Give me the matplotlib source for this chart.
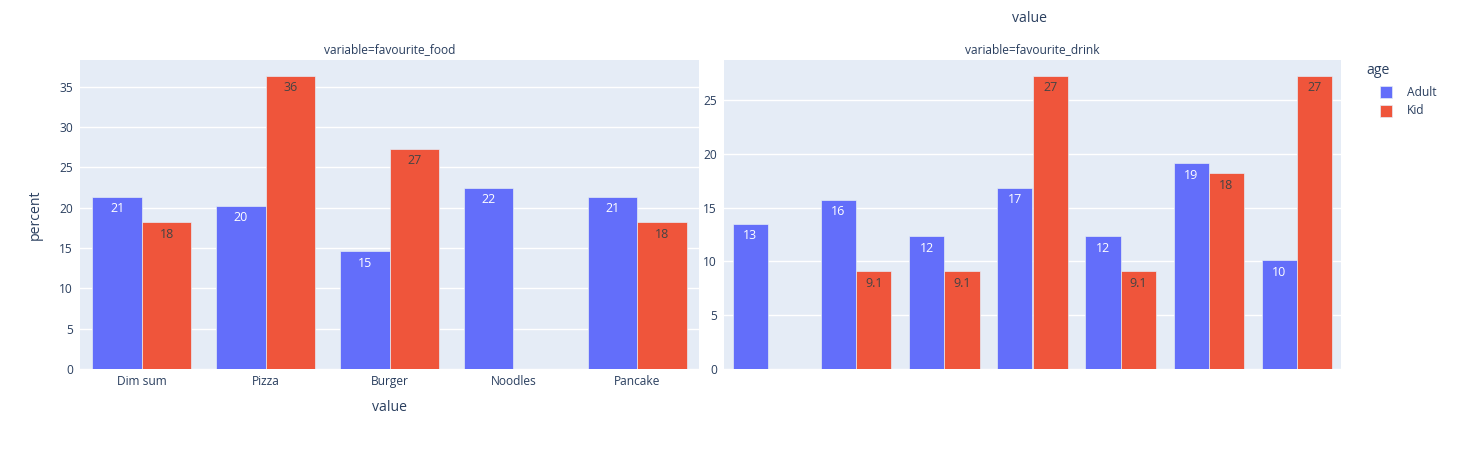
import matplotlib
matplotlib.use("Agg")
import matplotlib.pyplot as plt
from matplotlib.patches import Rectangle
import numpy as np

plt.rcParams['font.family'] = ['Open Sans', 'DejaVu Sans']

# ---- data ----
food_categories = ['Dim sum', 'Pizza', 'Burger', 'Noodles', 'Pancake']
food_adult = [21.35, 20.22, 14.61, 22.47, 21.35]
food_kid = [18.18, 36.36, 27.27, None, 18.18]

drink_categories = ['d1', 'd2', 'd3', 'd4', 'd5', 'd6', 'd7']  # labels hidden in reference
drink_adult = [13.48, 15.73, 12.36, 16.85, 12.36, 19.10, 10.11]
drink_kid = [None, 9.09, 9.09, 27.27, 9.09, 18.18, 27.27]

series_names = ['Adult', 'Kid']
series_colors = ['#636EFA', '#EF553B']
label_colors = ['white', '#444444']

left_yticks = [0, 5, 10, 15, 20, 25, 30, 35]
right_yticks = [0, 5, 10, 15, 20, 25]

# ---- style ----
W, H = 1457, 450
BG = '#E5ECF6'
TXT = '#2a3f5f'
PX = 0.72  # points per pixel at dpi 100

fig = plt.figure(figsize=(W / 100, H / 100), dpi=100)


def fx(px):
    return px / W


def fy(py):
    return 1 - py / H


ax1 = fig.add_axes([fx(80), fy(369), fx(619), 309 / H])
ax2 = fig.add_axes([fx(724), fy(369), fx(617), 309 / H])


def draw(ax, cats, adult, kid, yticks, show_xlabels):
    n = len(cats)
    x = np.arange(n)
    bw = 0.4
    vals = [adult, kid]
    ymax = 0
    for s in range(2):
        v = np.array([np.nan if a is None else a for a in vals[s]], dtype=float)
        ymax = max(ymax, np.nanmax(v))
        pos = x + (s - 0.5) * bw
        ax.bar(pos, np.nan_to_num(v), width=bw, color=series_colors[s],
               edgecolor=BG, linewidth=0.5, zorder=3)
        for p, val in zip(pos, v):
            if np.isnan(val):
                continue
            ax.annotate('{:.2g}'.format(val), xy=(p, val), xytext=(0, -4),
                        textcoords='offset points', ha='center', va='top',
                        fontsize=12.5 * PX, color=label_colors[s], zorder=4)
    ax.set_facecolor(BG)
    ax.set_xlim(-0.5, n - 0.5)
    ax.set_ylim(0, ymax * 1.053)
    ax.set_yticks(yticks)
    ax.grid(axis='y', color='white', linewidth=1.0, zorder=0)
    ax.set_axisbelow(True)
    for sp in ax.spines.values():
        sp.set_visible(False)
    ax.tick_params(axis='both', length=0, labelsize=12 * PX, colors=TXT)
    ax.tick_params(axis='y', pad=5)
    ax.tick_params(axis='x', pad=4)
    ax.set_xticks(x)
    if show_xlabels:
        ax.set_xticklabels(cats)
    else:
        ax.set_xticklabels([])


draw(ax1, food_categories, food_adult, food_kid, left_yticks, True)
draw(ax2, drink_categories, drink_adult, drink_kid, right_yticks, False)

ax1.set_ylabel('percent', fontsize=14 * PX, color=TXT, labelpad=12)
ax1.set_xlabel('value', fontsize=14 * PX, color=TXT, labelpad=9)

fig.text(fx(389.5), fy(50), 'variable=favourite_food', ha='center', va='center',
         fontsize=12 * PX, color=TXT)
fig.text(fx(1032.5), fy(50), 'variable=favourite_drink', ha='center', va='center',
         fontsize=12 * PX, color=TXT)
fig.text(fx(1029), fy(18), 'value', ha='center', va='center',
         fontsize=14 * PX, color=TXT)

# legend
fig.text(fx(1366), fy(71), 'age', ha='left', va='center', fontsize=14 * PX, color=TXT)
for i, (name, col) in enumerate(zip(series_names, series_colors)):
    yc = 92 + i * 19
    fig.patches.append(Rectangle((fx(1380), fy(yc + 6)), fx(12), 12 / H,
                                 transform=fig.transFigure, facecolor=col,
                                 edgecolor=BG, linewidth=0.5))
    fig.text(fx(1407), fy(yc), name, ha='left', va='center', fontsize=12 * PX, color=TXT)

fig.savefig('out.png', dpi=100, facecolor='white')
